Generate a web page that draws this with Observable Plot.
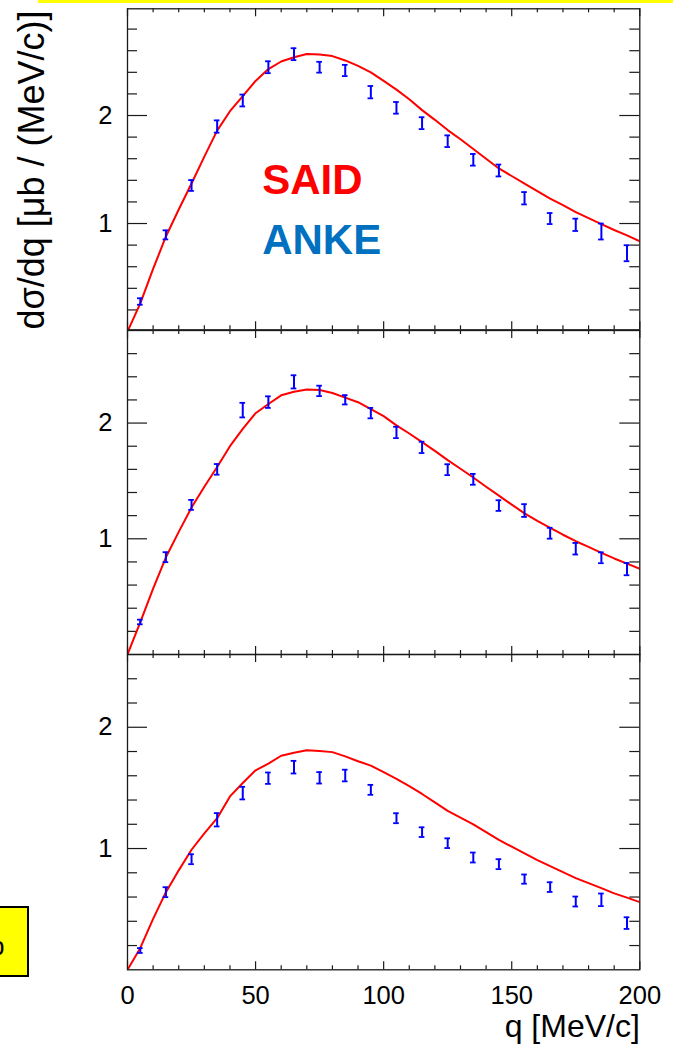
<!DOCTYPE html>
<html>
<head>
<meta charset="utf-8">
<script src="https://cdn.jsdelivr.net/npm/d3@7"></script>
<script src="https://cdn.jsdelivr.net/npm/@observablehq/plot@0.6"></script>
<style>
html,body{margin:0;padding:0;background:#fff;}
#page{position:relative;width:673px;height:1045px;overflow:hidden;font-family:"Liberation Sans",Arial,Helvetica,sans-serif;}
.panel{position:absolute;left:0;}
#topbar{position:absolute;left:38px;top:0;width:635px;height:3px;background:#ffff00;}
#tag{position:absolute;left:-3px;top:906px;width:28px;height:67px;border:2px solid #000;background:#ffff00;}
#tagtext{position:absolute;left:-10px;top:933px;font-size:26px;line-height:26px;color:#000;}
</style>
</head>
<body>
<div id="page">
  <div id="topbar"></div>
  <div id="tag"></div>
  <span id="tagtext">b</span>
</div>
<script>
// ---- data ----
const qData = [5,15,25,35,45,55,65,75,85,95,105,115,125,135,145,155,165,175,185,195];
const qCurve = [0,5,10,15,20,25,30,35,40,45,50,55,60,65,70,75,80,85,90,95,100,105,110,115,120,125,130,135,140,145,150,155,160,165,170,175,180,185,190,195,200];

const anke1 = [0.278,0.895,1.352,1.898,2.139,2.447,2.568,2.447,2.417,2.216,2.071,1.929,1.762,1.590,1.491,1.234,1.046,0.988,0.926,0.725];
const err1  = [0.030,0.042,0.050,0.057,0.055,0.055,0.055,0.050,0.052,0.057,0.054,0.055,0.054,0.054,0.055,0.057,0.051,0.057,0.074,0.074];
const said1 = [0,0.26,0.58,0.88,1.13,1.37,1.62,1.86,2.04,2.18,2.32,2.43,2.50,2.54,2.57,2.565,2.55,2.51,2.46,2.40,2.32,2.24,2.15,2.05,1.96,1.865,1.78,1.69,1.60,1.51,1.44,1.37,1.30,1.23,1.17,1.105,1.05,0.995,0.94,0.89,0.836];

const anke2 = [0.281,0.841,1.293,1.600,2.112,2.181,2.356,2.278,2.201,2.086,1.919,1.790,1.597,1.514,1.287,1.244,1.048,0.914,0.836,0.738];
const err2  = [0.020,0.043,0.043,0.046,0.063,0.050,0.057,0.045,0.040,0.045,0.049,0.049,0.047,0.047,0.046,0.055,0.047,0.050,0.047,0.053];
const said2 = [0,0.28,0.57,0.84,1.06,1.27,1.45,1.62,1.80,1.95,2.085,2.165,2.24,2.27,2.29,2.285,2.26,2.22,2.18,2.12,2.06,1.98,1.91,1.835,1.76,1.68,1.605,1.53,1.45,1.373,1.295,1.22,1.155,1.095,1.035,0.979,0.93,0.879,0.83,0.785,0.741];

const anke3 = [0.159,0.640,0.912,1.237,1.457,1.580,1.671,1.583,1.602,1.484,1.250,1.135,1.044,0.926,0.871,0.748,0.682,0.563,0.577,0.385];
const err3  = [0.020,0.041,0.041,0.055,0.052,0.047,0.052,0.047,0.048,0.041,0.041,0.040,0.040,0.041,0.041,0.038,0.040,0.041,0.052,0.048];
const said3 = [0,0.18,0.42,0.64,0.82,0.99,1.125,1.25,1.43,1.54,1.645,1.70,1.765,1.79,1.81,1.805,1.795,1.76,1.72,1.684,1.63,1.575,1.515,1.45,1.38,1.31,1.255,1.20,1.135,1.072,1.015,0.96,0.905,0.855,0.805,0.756,0.715,0.674,0.63,0.595,0.558];

const xTickLabels = [0,50,100,150,200];
const xMinorTicks = [10,20,30,40,60,70,80,90,110,120,130,140,160,170,180,190];
const yTickLabels = [1,2];
const yMinorTicks = [0.2,0.4,0.6,0.8,1.2,1.4,1.6,1.8,2.2,2.4,2.6,2.8];

const xTitle = "q [MeV/c]";
const yTitle = "dσ/dq [μb / (MeV/c)]";
const saidLabel = "SAID";
const ankeLabel = "ANKE";

// ---- layout ----
const W = 673, ML = 127, MR = 33.7;
const FW = W - ML - MR;
const FONT = '"Liberation Sans", Arial, Helvetica, sans-serif';
const INK = "#1a1a1a";

const panels = [
  {top: 0,   height: 331, mt: 8.3, mb: 1.7,  domain: [0.016, 2.988], anke: anke1, err: err1, said: said1, first: true},
  {top: 329, height: 326, mt: 1,   mb: 1,    domain: [0, 2.8],       anke: anke2, err: err2, said: said2},
  {top: 653, height: 392, mt: 1,   mb: 75.7, domain: [0, 2.6],       anke: anke3, err: err3, said: said3, last: true}
];

const page = document.getElementById("page");

for (const p of panels) {
  const FH = p.height - p.mt - p.mb;
  const pts = qData.map((q, i) => ({q, v: p.anke[i], e: p.err[i]}));
  const curve = qCurve.map((q, i) => ({q, v: p.said[i]}));
  const yMin = yMinorTicks.filter(v => v > p.domain[0] && v < p.domain[1] - 0.01);

  const marks = [
    // inward ticks on all four sides
    Plot.tickX(xTickLabels, {x: d => d, insetTop: FH - 8, stroke: INK, strokeWidth: 1.2}),
    Plot.tickX(xMinorTicks, {x: d => d, insetTop: FH - 4, stroke: INK, strokeWidth: 1.2}),
    Plot.tickX(xTickLabels, {x: d => d, insetBottom: FH - 8, stroke: INK, strokeWidth: 1.2}),
    Plot.tickX(xMinorTicks, {x: d => d, insetBottom: FH - 4, stroke: INK, strokeWidth: 1.2}),
    Plot.tickY(yTickLabels, {y: d => d, insetRight: FW - 20, stroke: INK, strokeWidth: 1.2}),
    Plot.tickY(yMin, {y: d => d, insetRight: FW - 10, stroke: INK, strokeWidth: 1.2}),
    Plot.tickY(yTickLabels, {y: d => d, insetLeft: FW - 20, stroke: INK, strokeWidth: 1.2}),
    Plot.tickY(yMin, {y: d => d, insetLeft: FW - 10, stroke: INK, strokeWidth: 1.2}),
    // SAID curve
    Plot.line(curve, {x: "q", y: "v", stroke: "#ff0000", strokeWidth: 2, clip: true}),
    // ANKE error bars
    Plot.ruleX(pts, {x: "q", y1: d => d.v - d.e, y2: d => d.v + d.e, stroke: "#0000ff", strokeWidth: 2}),
    Plot.ruleY(pts, {y: d => d.v + d.e, x1: d => d.q - 1.1, x2: d => d.q + 1.1, stroke: "#0000ff", strokeWidth: 1.8}),
    Plot.ruleY(pts, {y: d => d.v - d.e, x1: d => d.q - 1.1, x2: d => d.q + 1.1, stroke: "#0000ff", strokeWidth: 1.8}),
    Plot.frame({stroke: INK, strokeWidth: 1.3}),
    Plot.axisY(yTickLabels, {anchor: "left", tickSize: 0, tickPadding: 15, label: null, fontSize: 25.5, tickFormat: d => String(d), fill: "#000"})
  ];

  if (p.first) {
    marks.push(
      Plot.text([yTitle], {frameAnchor: "top-left", text: d => d, rotate: -90, textAnchor: "end", lineAnchor: "middle", dx: -95, dy: 1.7, fontSize: 36, fill: "#000"}),
      Plot.text([saidLabel], {frameAnchor: "top-left", text: d => d, textAnchor: "start", lineAnchor: "middle", dx: 134.7, dy: 171.6, fontSize: 42, fontWeight: "bold", fill: "#ff0000"}),
      Plot.text([ankeLabel], {frameAnchor: "top-left", text: d => d, textAnchor: "start", lineAnchor: "middle", dx: 134.7, dy: 231.6, fontSize: 42, fontWeight: "bold", fill: "#0070c0"})
    );
  }
  if (p.last) {
    marks.push(
      Plot.axisX(xTickLabels, {anchor: "bottom", tickSize: 0, tickPadding: 15.7, label: null, fontSize: 25.5, tickFormat: d => String(d), fill: "#000"}),
      Plot.text([xTitle], {frameAnchor: "bottom-right", text: d => d, textAnchor: "end", dy: 67, fontSize: 32, fill: "#000"})
    );
  }

  const svg = Plot.plot({
    width: W,
    height: p.height,
    marginLeft: ML,
    marginRight: MR,
    marginTop: p.mt,
    marginBottom: p.mb,
    x: {domain: [0, 200], axis: null},
    y: {domain: p.domain, axis: null},
    style: {background: "transparent", overflow: "visible", fontFamily: FONT, fontSize: "25.5px", color: "#000"},
    marks
  });
  const wrap = document.createElement("div");
  wrap.className = "panel";
  wrap.style.top = p.top + "px";
  wrap.appendChild(svg);
  page.appendChild(wrap);
}
</script>
</body>
</html>
